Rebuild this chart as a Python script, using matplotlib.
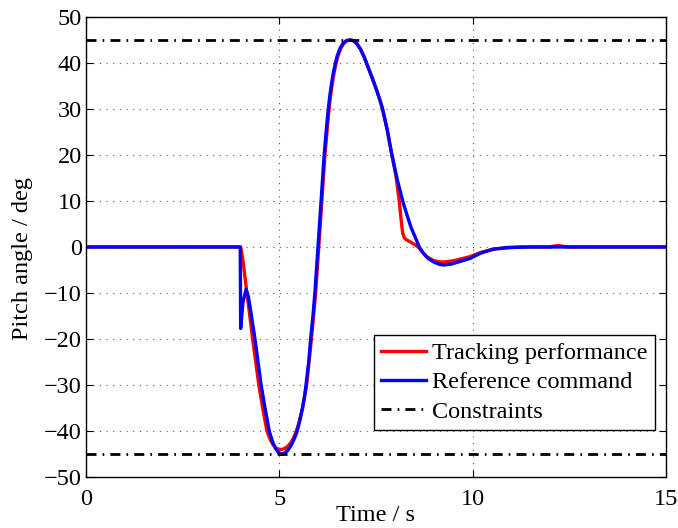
import matplotlib
matplotlib.use('Agg')
import matplotlib.pyplot as plt

# Reference command (blue)
ref_t = [0, 3.99, 4.0, 4.06, 4.14, 4.2, 4.28, 4.37, 4.45, 4.53, 4.63, 4.74, 4.82, 4.9,
         4.98, 5.06, 5.14, 5.22, 5.3, 5.37, 5.44, 5.5, 5.55, 5.6, 5.65, 5.69, 5.76,
         5.81, 5.87, 5.92, 5.96, 6.0, 6.04, 6.08, 6.12, 6.16, 6.21, 6.26, 6.3, 6.35,
         6.4, 6.45, 6.5, 6.57, 6.65, 6.74, 6.83, 6.92, 7.0, 7.1, 7.2, 7.3, 7.4, 7.5,
         7.6, 7.67, 7.79, 7.9, 8.04, 8.19, 8.3, 8.4, 8.52, 8.62, 8.72, 8.85, 9.0,
         9.15, 9.28, 9.45, 9.65, 9.93, 10.19, 10.5, 10.9, 11.5, 15]
ref_y = [0, 0, -17.7, -12.0, -9.2, -10.8, -15.0, -20, -25, -30, -35, -40, -42.2, -43.8,
         -44.7, -45, -44.8, -44.2, -43.2, -42.0, -40.6, -38.8, -37.0, -35.0, -32.6, -30, -25,
         -20, -15, -10, -5, 0, 5, 10, 15, 20, 25, 29.5, 32.5, 35.5,
         38.0, 40.0, 41.6, 43.2, 44.3, 44.9, 45, 44.8, 44.2, 43.0, 41.2, 39.0, 36.8, 34.5,
         32.0, 30, 25.5, 20.5, 15, 10, 7, 4.4, 2, 0, -1.3, -2.5, -3.3,
         -3.8, -3.9, -3.7, -3.2, -2.5, -1.4, -0.5, -0.1, 0, 0]

# Tracking performance (red)
trk_t = [0, 4.0, 4.06, 4.15, 4.23, 4.31, 4.39, 4.47, 4.57, 4.68, 4.76, 4.84, 4.92, 5.0,
         5.06, 5.14, 5.22, 5.3, 5.38, 5.45, 5.52, 5.6, 5.71, 5.83, 5.94, 6.02, 6.1,
         6.18, 6.28, 6.32, 6.37, 6.42, 6.47, 6.52, 6.59, 6.67, 6.76, 6.86, 6.94, 7.01,
         7.1, 7.2, 7.3, 7.4, 7.5, 7.6, 7.67, 7.79, 7.9, 8.02, 8.1, 8.15, 8.19, 8.24,
         8.3, 8.37, 8.45, 8.52, 8.59, 8.7, 8.81, 9.0, 9.23, 9.5, 9.93, 10.2, 10.6,
         11.2, 12.0, 12.1, 12.2, 12.3, 12.45, 15]
trk_y = [0, 0, -3, -9.2, -14.5, -20, -25, -30, -35, -40, -41.8, -43.0, -43.7, -44.0,
         -44.0, -43.8, -43.3, -42.5, -41.3, -39.8, -37.8, -35.0, -29.8, -20, -10, 0, 10,
         20, 29.5, 32.5, 35.5, 38.0, 40.0, 41.6, 43.2, 44.3, 44.9, 45, 44.8, 44.2,
         43.0, 41.2, 39.0, 36.8, 34.5, 32.0, 30, 25.5, 20.5, 15.3, 10, 6.0, 3.0, 1.9,
         1.5, 1.2, 0.8, 0.4, 0, -1.1, -2.1, -3.0, -3.3, -3.0, -2.1, -1.2, -0.4,
         0, 0, 0.2, 0.3, 0.2, 0, 0]

constraint = 45
x_ticks = [0, 5, 10, 15]
y_ticks = list(range(-50, 51, 10))

plt.rcParams['font.family'] = ['Liberation Serif', 'DejaVu Serif']

fig = plt.figure(figsize=(6.78, 5.28), dpi=100)
ax = fig.add_axes([0.1268, 0.0966, 0.8555, 0.8712])

dashdot = (0, (3.6, 2.2, 0.6, 2.2))
ax.plot(trk_t, trk_y, color='red', lw=2.4, label='Tracking performance')
ax.plot(ref_t, ref_y, color='blue', lw=2.4, label='Reference command')
ax.axhline(constraint, color='black', lw=2, ls=dashdot, label='Constraints')
ax.axhline(-constraint, color='black', lw=2, ls=dashdot)

ax.set_xlim(0, 15)
ax.set_ylim(-50, 50)
ax.set_xticks(x_ticks)
ax.set_yticks(y_ticks)
ax.tick_params(direction='in', length=5, width=0.8, top=True, right=True,
               labelsize=17.5, pad=3)
ax.tick_params(axis='x', pad=9)
ax.grid(True, color='#555555', ls=(0, (1, 5)), lw=0.8)
for s in ax.spines.values():
    s.set_linewidth(1.0)

ax.set_xlabel('Time / s', fontsize=17.5, labelpad=-4)
ax.set_ylabel('Pitch angle / deg', fontsize=17.5)
ax.yaxis.set_label_coords(-0.092, 0.476)

leg = ax.legend(loc='lower right', bbox_to_anchor=(0.981, 0.102), borderaxespad=0,
                fontsize=17.5, fancybox=False, framealpha=1, edgecolor='black',
                handlelength=1.85, labelspacing=0.3, borderpad=0.3, handletextpad=0.25)
leg.get_frame().set_linewidth(1.0)

fig.savefig('out.png', dpi=100)
